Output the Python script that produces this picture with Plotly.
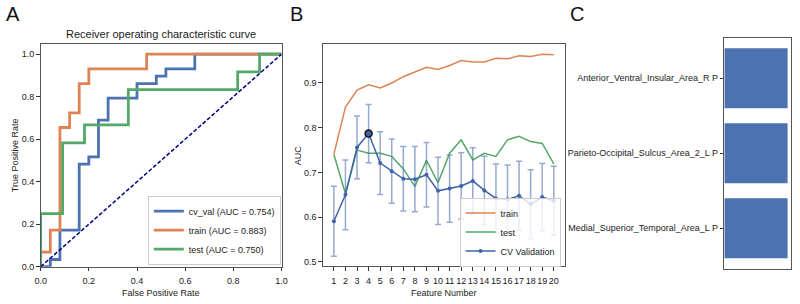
import numpy as np
import plotly.graph_objects as go

# ---------------- Panel A: ROC curves (corner points of the step curves) ----------------
cv_fpr = [0.0, 0.04, 0.04, 0.08, 0.08, 0.16, 0.16, 0.20, 0.20, 0.24, 0.24, 0.28, 0.28,
          0.40, 0.40, 0.48, 0.48, 0.52, 0.52, 0.64, 0.64, 1.0]
cv_tpr = [0.0, 0.0, 0.034, 0.034, 0.172, 0.172, 0.483, 0.483, 0.517, 0.517, 0.690, 0.690,
          0.793, 0.793, 0.862, 0.862, 0.897, 0.897, 0.931, 0.931, 1.0, 1.0]
train_fpr = [0.0, 0.0, 0.04, 0.04, 0.08, 0.08, 0.12, 0.12, 0.16, 0.16, 0.20, 0.20, 0.44, 0.44, 1.0]
train_tpr = [0.0, 0.069, 0.069, 0.172, 0.172, 0.655, 0.655, 0.724, 0.724, 0.862, 0.862,
             0.931, 0.931, 1.0, 1.0]
test_fpr = [0.0, 0.0, 0.091, 0.091, 0.182, 0.182, 0.364, 0.364, 0.818, 0.818, 0.909, 0.909, 1.0]
test_tpr = [0.0, 0.25, 0.25, 0.583, 0.583, 0.667, 0.667, 0.833, 0.833, 0.917, 0.917, 1.0, 1.0]
roc_names = ["cv_val (AUC = 0.754)", "train (AUC = 0.883)", "test (AUC = 0.750)"]
chance_line = [0.0, 1.0]
roc_ticks = [0.0, 0.2, 0.4, 0.6, 0.8, 1.0]

# ---------------- Panel B: AUC vs number of features ----------------
n_features = list(range(1, 21))
train_auc = [0.741, 0.846, 0.884, 0.896, 0.889, 0.900, 0.914, 0.924, 0.935, 0.930,
             0.939, 0.950, 0.947, 0.947, 0.955, 0.954, 0.961, 0.959, 0.964, 0.963]
test_auc = [0.740, 0.653, 0.750, 0.743, 0.743, 0.736, 0.708, 0.669, 0.727, 0.677,
            0.743, 0.773, 0.728, 0.743, 0.736, 0.773, 0.781, 0.769, 0.765, 0.719]
cv_auc = [0.591, 0.650, 0.756, 0.787, 0.721, 0.703, 0.686, 0.685, 0.695, 0.659,
          0.664, 0.670, 0.681, 0.660, 0.642, 0.640, 0.648, 0.629, 0.645, 0.637]
cv_std = [0.078, 0.078, 0.070, 0.065, 0.070, 0.072, 0.072, 0.073, 0.072, 0.075,
          0.075, 0.074, 0.074, 0.076, 0.077, 0.077, 0.077, 0.077, 0.075, 0.077]
auc_ticks = [0.5, 0.6, 0.7, 0.8, 0.9]

# ---------------- Panel C: selected features ----------------
features = ["Medial_Superior_Temporal_Area_L P",
            "Parieto-Occipital_Sulcus_Area_2_L P",
            "Anterior_Ventral_Insular_Area_R P"]
importance = [1.0, 1.0, 1.0]

# ---------------- styling ----------------
W, H = 800, 304
BLUE, ORANGE, GREEN = "#4C72B0", "#DD8452", "#55A868"
CV_BLUE = "#3F62A8"
FONT = "Liberation Sans, Arial, sans-serif"
LETTER_FONT = "Liberation Sans, Arial, sans-serif"
TXT = "#1a1a1a"
SPINE = "#555555"
FS = 9


def px_x(x):
    return x / W


def px_y(y):
    return 1 - y / H


fig = go.Figure()

# Panel A traces
for fpr, tpr, name, col in [(cv_fpr, cv_tpr, roc_names[0], BLUE),
                            (train_fpr, train_tpr, roc_names[1], ORANGE),
                            (test_fpr, test_tpr, roc_names[2], GREEN)]:
    fig.add_trace(go.Scatter(x=fpr, y=tpr, mode="lines", name=name,
                             line=dict(color=col, width=2.8),
                             xaxis="x", yaxis="y", legend="legend"))
fig.add_trace(go.Scatter(x=chance_line, y=chance_line, mode="lines", showlegend=False,
                         line=dict(color="navy", width=1.5, dash="4px,2px"),
                         xaxis="x", yaxis="y"))

# Panel B traces
fig.add_trace(go.Scatter(x=n_features, y=train_auc, mode="lines", name="train",
                         line=dict(color=ORANGE, width=1.5),
                         xaxis="x2", yaxis="y2", legend="legend2"))
fig.add_trace(go.Scatter(x=n_features, y=test_auc, mode="lines", name="test",
                         line=dict(color=GREEN, width=1.5),
                         xaxis="x2", yaxis="y2", legend="legend2"))
fig.add_trace(go.Scatter(x=n_features, y=cv_auc, mode="lines+markers", name="CV Validation",
                         line=dict(color=CV_BLUE, width=1.5),
                         marker=dict(color=CV_BLUE, size=4),
                         error_y=dict(type="data", array=cv_std, visible=True,
                                      color="rgba(76,114,176,0.6)", thickness=1.5, width=3),
                         xaxis="x2", yaxis="y2", legend="legend2"))
best = int(np.argmax(cv_auc))
fig.add_trace(go.Scatter(x=[n_features[best]], y=[cv_auc[best]], mode="markers",
                         showlegend=False,
                         marker=dict(color=CV_BLUE, size=7, line=dict(color="#111111", width=1.5)),
                         xaxis="x2", yaxis="y2"))

# Panel C trace
fig.add_trace(go.Bar(x=importance, y=features, orientation="h", width=0.8,
                     marker=dict(color=BLUE, line=dict(width=0)),
                     showlegend=False, xaxis="x3", yaxis="y3"))

base_axis = dict(showline=True, mirror=True, linecolor=SPINE, linewidth=1.2,
                 showgrid=False, zeroline=False, tickwidth=1, tickcolor="#333333",
                 tickfont=dict(family=FONT, size=FS, color=TXT))
tick_axis = dict(base_axis, ticks="outside", ticklen=3.5)

fig.update_layout(
    width=W, height=H, margin=dict(l=0, r=0, t=0, b=0),
    paper_bgcolor="white", plot_bgcolor="white",
    font=dict(family=FONT, size=FS, color=TXT),
    xaxis=dict(domain=[px_x(35.2), px_x(279.7)], range=[0, 1], tickvals=roc_ticks,
               tickformat=".1f", anchor="y", tickangle=0, ticklabelstandoff=2, **tick_axis),
    yaxis=dict(domain=[px_y(271.2), px_y(44.3)], range=[0, 1.05], tickvals=roc_ticks,
               tickformat=".1f", anchor="x", **tick_axis),
    xaxis2=dict(domain=[px_x(321.7), px_x(567.3)], range=[0.05, 20.95], tickvals=n_features,
                anchor="y2", tickangle=0, ticklabelstandoff=2, **tick_axis),
    yaxis2=dict(domain=[px_y(270.7), px_y(45)],
                range=[min(np.subtract(cv_auc, cv_std)) - 0.0225, max(train_auc) + 0.0225],
                tickvals=auc_ticks, tickformat=".1f", anchor="x2", **tick_axis),
    xaxis3=dict(domain=[px_x(729.3), px_x(796.7)], range=[0, max(importance) * 1.05],
                showticklabels=False, ticks="", anchor="y3", **base_axis),
    yaxis3=dict(domain=[px_y(273.3), px_y(38.3)], range=[-0.54, 2.54], type="category",
                categoryorder="array", categoryarray=features, anchor="x3", **tick_axis),
    legend=dict(x=px_x(279), y=px_y(269), xanchor="right", yanchor="bottom",
                bgcolor="rgba(255,255,255,0.8)", bordercolor="#cccccc", borderwidth=1,
                font=dict(family=FONT, size=FS, color=TXT), itemwidth=30),
    legend2=dict(x=px_x(563), y=px_y(271), xanchor="right", yanchor="bottom",
                 bgcolor="rgba(255,255,255,0.8)", bordercolor="#cccccc", borderwidth=1,
                 font=dict(family=FONT, size=FS, color=TXT), itemwidth=30),
)

annotations = [
    dict(text="A", x=px_x(-2), y=px_y(14.5), xanchor="left", yanchor="middle",
         font=dict(family=LETTER_FONT, size=20, color="#111111")),
    dict(text="B", x=px_x(286), y=px_y(14.5), xanchor="left", yanchor="middle",
         font=dict(family=LETTER_FONT, size=20, color="#111111")),
    dict(text="C", x=px_x(571), y=px_y(14.5), xanchor="left", yanchor="middle",
         font=dict(family=LETTER_FONT, size=20, color="#111111")),
    dict(text="Receiver operating characteristic curve", x=px_x(157.5), y=px_y(35),
         xanchor="center", yanchor="middle", font=dict(family=FONT, size=11, color=TXT)),
    dict(text="False Positive Rate", x=px_x(157.5), y=px_y(298),
         xanchor="center", yanchor="middle", font=dict(family=FONT, size=FS, color=TXT)),
    dict(text="True Positive Rate", x=px_x(10), y=px_y(158), textangle=-90,
         xanchor="center", yanchor="middle", font=dict(family=FONT, size=FS, color=TXT)),
    dict(text="Feature Number", x=px_x(444.5), y=px_y(298),
         xanchor="center", yanchor="middle", font=dict(family=FONT, size=FS, color=TXT)),
    dict(text="AUC", x=px_x(297.3), y=px_y(158), textangle=-90,
         xanchor="center", yanchor="middle", font=dict(family=FONT, size=FS, color=TXT)),
]
for a in annotations:
    a.update(xref="paper", yref="paper", showarrow=False)
fig.update_layout(annotations=annotations)

fig.write_html("out.html")
